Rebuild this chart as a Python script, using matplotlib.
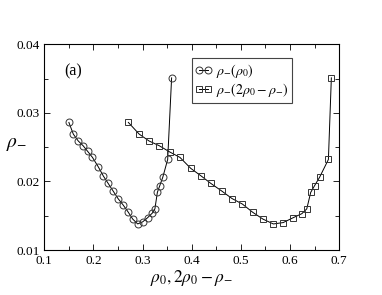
import numpy as np
import matplotlib.pyplot as plt
from matplotlib.ticker import MultipleLocator

plt.rcParams['font.family'] = ['Liberation Serif', 'DejaVu Serif']
plt.rcParams['mathtext.fontset'] = 'stix'

# rho_-(rho_0)
rho0 = [0.150, 0.159, 0.169, 0.179, 0.188, 0.198, 0.210, 0.220, 0.230, 0.240,
        0.250, 0.260, 0.270, 0.280, 0.290, 0.300, 0.310, 0.320, 0.325, 0.330,
        0.335, 0.341, 0.351, 0.359]
rhom_a = [0.0286, 0.0269, 0.0259, 0.0252, 0.0244, 0.0235, 0.0221, 0.0208, 0.0197, 0.0186,
          0.0175, 0.0166, 0.0156, 0.0145, 0.0138, 0.0141, 0.0147, 0.0154, 0.0160, 0.0184,
          0.0194, 0.0206, 0.0232, 0.0351]

# rho_-(2 rho_0 - rho_-)
rho2 = [0.271, 0.293, 0.313, 0.334, 0.355, 0.376, 0.398, 0.419, 0.439, 0.461,
        0.482, 0.503, 0.524, 0.545, 0.566, 0.586, 0.606, 0.624, 0.634, 0.642,
        0.650, 0.660, 0.678, 0.684]
rhom_b = [0.0286, 0.0269, 0.0259, 0.0252, 0.0243, 0.0235, 0.0219, 0.0208, 0.0197, 0.0186,
          0.0175, 0.0167, 0.0155, 0.0145, 0.0138, 0.0140, 0.0147, 0.0153, 0.0160, 0.0184,
          0.0194, 0.0206, 0.0232, 0.0351]

fig = plt.figure(figsize=(3.82, 2.95), dpi=100)
ax = fig.add_axes([0.116, 0.1525, 0.772, 0.6975])

ax.plot(rho0, rhom_a, '-o', color='black', lw=0.7, ms=5, mfc='none', mec='#333333', mew=0.7,
        label=r'$\rho_{-}(\rho_0)$')
ax.plot(rho2, rhom_b, '-s', color='black', lw=0.7, ms=4.8, mfc='none', mec='#333333', mew=0.7,
        label=r'$\rho_{-}(2\rho_0-\rho_{-})$')

ax.set_xlim(0.1, 0.7)
ax.set_ylim(0.01, 0.04)
ax.xaxis.set_major_locator(MultipleLocator(0.1))
ax.xaxis.set_minor_locator(MultipleLocator(0.05))
ax.yaxis.set_major_locator(MultipleLocator(0.01))
ax.yaxis.set_minor_locator(MultipleLocator(0.005))
ax.tick_params(which='both', direction='in', top=True, right=True, labelsize=9.5, width=0.6)
ax.tick_params(which='major', length=4)
ax.tick_params(which='minor', length=3)
for s in ax.spines.values():
    s.set_linewidth(0.8)

ax.set_xlabel(r'$\rho_0, 2\rho_0-\rho_{-}$', fontsize=12.5, labelpad=1)
ax.set_ylabel(r'$\rho_{-}$', fontsize=14, rotation=0)
ax.yaxis.set_label_coords(-0.093, 0.47)
ax.text(0.158, 0.036, '(a)', fontsize=11.5, ha='center', va='center')

leg = ax.legend(loc='upper left', bbox_to_anchor=(0.4997, 0.932), borderaxespad=0,
                numpoints=2, handlelength=1.2, handletextpad=0.3, fontsize=10,
                fancybox=False, edgecolor='#444444', framealpha=1,
                borderpad=0.25, labelspacing=0.1)
leg.get_frame().set_linewidth(0.8)

fig.savefig('out.png', dpi=100)
